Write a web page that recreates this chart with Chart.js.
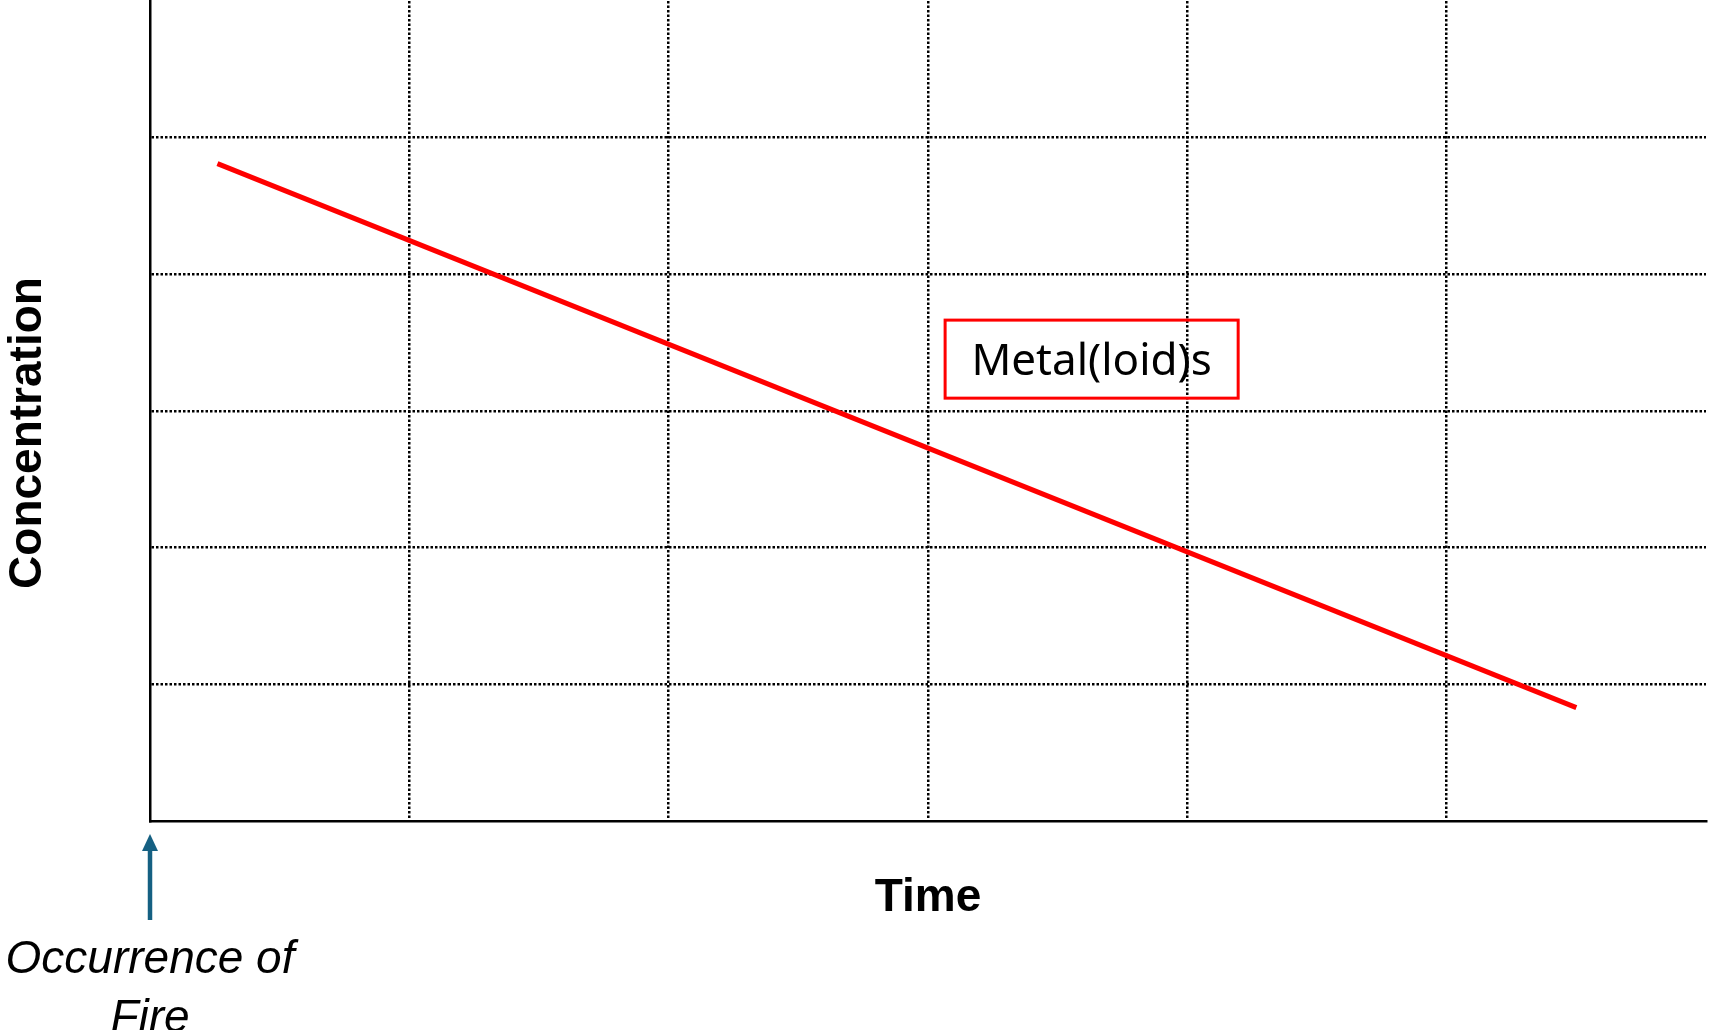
<!DOCTYPE html>
<html>
<head>
<meta charset="utf-8">
<title>Metal(loid)s concentration over time</title>
<script src="https://cdn.jsdelivr.net/npm/chart.js@4.4.1/dist/chart.umd.min.js"></script>
<style>
  html, body { margin: 0; padding: 0; background: #fff; }
  #wrap { width: 1709px; height: 1030px; }
</style>
</head>
<body>
<div id="wrap"><canvas id="trendChart" width="1709" height="1030"></canvas></div>
<script>
// schematic values (unitless)
const timeValues = [0.26, 5.5];
const metalloidValues = [4.81, 0.83];
const axisMin = 0;
const axisMax = 6;

const seriesLabel = 'Metal(loid)s';
const xTitle = 'Time';
const yTitle = 'Concentration';
const eventLabel = ['Occurrence of', 'Fire'];

// hide the grid line that sits on the axis and the one on the far edge
function gridColor(ctx) {
  const v = ctx.tick ? ctx.tick.value : null;
  return (v === axisMin || v === axisMax) ? 'rgba(0,0,0,0)' : '#000';
}

// texts, label box and the fire arrow
const decorations = {
  id: 'decorations',
  afterDraw(chart) {
    const { ctx, chartArea, scales } = chart;
    const x = scales.x, y = scales.y;
    ctx.save();

    // label box for the series, placed in data units
    const bx1 = x.getPixelForValue(3.066), bx2 = x.getPixelForValue(4.196);
    const by1 = y.getPixelForValue(3.665), by2 = y.getPixelForValue(3.094);
    ctx.strokeStyle = '#ff0000';
    ctx.lineWidth = 3;
    ctx.strokeRect(bx1, by1, bx2 - bx1, by2 - by1);
    ctx.fillStyle = '#000';
    ctx.font = '44px "Noto Sans", sans-serif';
    ctx.textAlign = 'center';
    ctx.textBaseline = 'alphabetic';
    ctx.fillText(seriesLabel, (bx1 + bx2) / 2, (by1 + by2) / 2 + 15.5);

    // axis titles
    ctx.font = 'bold 46px "Liberation Sans", Arial, sans-serif';
    ctx.fillText(xTitle, (chartArea.left + chartArea.right) / 2, 911);

    ctx.save();
    ctx.translate(41, 433);
    ctx.rotate(-Math.PI / 2);
    ctx.font = 'bold 46px "Liberation Sans", Arial, sans-serif';
    ctx.fillText(yTitle, 0, 0);
    ctx.restore();

    // arrow under the origin
    const ax = chartArea.left;
    ctx.strokeStyle = '#156082';
    ctx.fillStyle = '#156082';
    ctx.lineWidth = 4.5;
    ctx.beginPath();
    ctx.moveTo(ax, 920);
    ctx.lineTo(ax, 848);
    ctx.stroke();
    ctx.beginPath();
    ctx.moveTo(ax, 834);
    ctx.lineTo(ax - 8, 851);
    ctx.lineTo(ax + 8, 851);
    ctx.closePath();
    ctx.fill();

    // event label
    ctx.fillStyle = '#000';
    ctx.font = 'italic 46px "Liberation Sans", Arial, sans-serif';
    ctx.fillText(eventLabel[0], ax, 973);
    ctx.fillText(eventLabel[1], ax, 1032);

    ctx.restore();
  }
};

const ctx = document.getElementById('trendChart').getContext('2d');

new Chart(ctx, {
  type: 'line',
  data: {
    datasets: [{
      label: seriesLabel,
      data: timeValues.map((t, i) => ({ x: t, y: metalloidValues[i] })),
      borderColor: '#ff0000',
      borderWidth: 5,
      pointRadius: 0,
      tension: 0,
      fill: false
    }]
  },
  options: {
    responsive: false,
    animation: false,
    layout: {
      autoPadding: false,
      padding: { left: 150, right: 3, top: 1, bottom: 209 }
    },
    plugins: {
      legend: { display: false },
      tooltip: { enabled: false }
    },
    scales: {
      x: {
        type: 'linear',
        min: axisMin,
        max: axisMax,
        ticks: { display: false, stepSize: 1 },
        grid: { color: gridColor, lineWidth: 2.5, drawTicks: false },
        border: { display: true, color: '#000', width: 2.5, dash: [2.5, 2] }
      },
      y: {
        type: 'linear',
        min: axisMin,
        max: axisMax,
        ticks: { display: false, stepSize: 1 },
        grid: { color: gridColor, lineWidth: 2.5, drawTicks: false },
        border: { display: true, color: '#000', width: 2.5, dash: [2.5, 2] }
      }
    }
  },
  plugins: [decorations]
});
</script>
</body>
</html>
